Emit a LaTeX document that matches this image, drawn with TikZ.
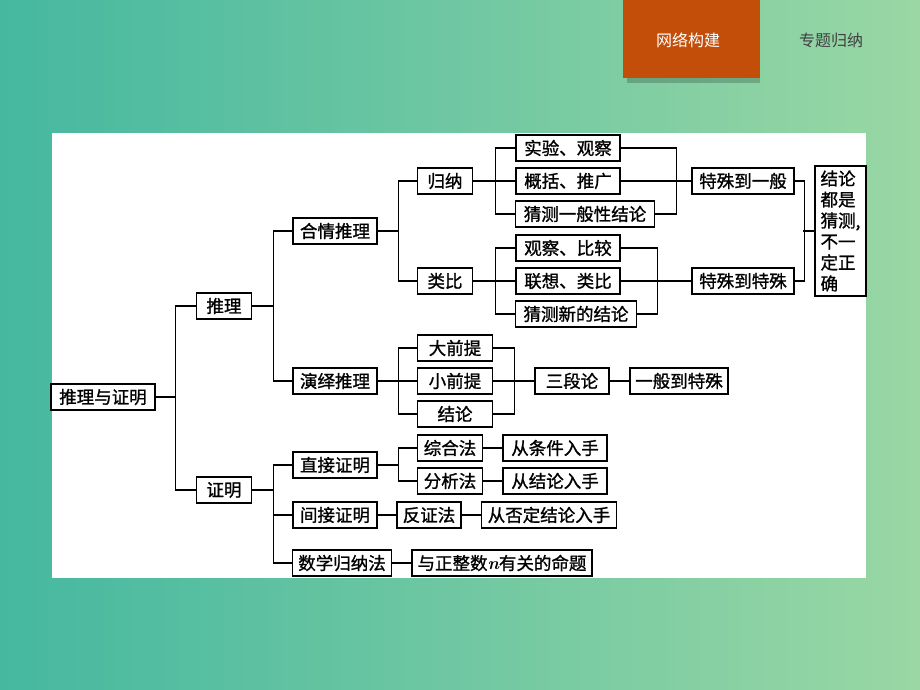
\documentclass[tikz,border=0pt]{standalone}
\usepackage{fontspec}
\newfontfamily\cjk{Noto Sans CJK SC}
\newfontfamily\cjkbox{Noto Sans CJK SC}[FakeBold=1.2]
\usepackage{tikz}
\usetikzlibrary{positioning}
\definecolor{bgteal}{HTML}{45B8A0}
\definecolor{bggreen}{HTML}{9AD7A4}
\definecolor{tabred}{HTML}{C24E0A}
\tikzset{
  kbox/.style={draw=black, line width=1.4pt, fill=white, minimum height=26pt,
    inner sep=0pt, font=\cjkbox\fontsize{17.5}{20}\selectfont},
  kline/.style={line width=1.4pt}
}

\begin{document}
\begin{tikzpicture}[x=1pt, y=-1pt]
\shade[left color=bgteal, right color=bggreen] (0,0) rectangle (920,690);
\fill[black, opacity=0.2] (627,78) rectangle (760,83);
\fill[tabred] (623,0) rectangle (760,78);
\node[font=\cjk\fontsize{16}{18}\selectfont, text=white] (tabA) at (688,40) {网络构建};
\node[font=\cjk\fontsize{16}{18}\selectfont, text=black!75] (tabB) at (831,40) {专题归纳};
\fill[white] (52,133) rectangle (866,578);
% first levels
\node[kbox, minimum width=104pt] (root) at (103,397) {推理与证明};
\node[kbox, minimum width=55pt] (tl) at (224,306) {推理};
\node[kbox, minimum width=55pt] (zm) at (224,490) {证明};
\node[kbox, minimum width=84pt] (hq) at (335,231) {合情推理};
\node[kbox, minimum width=84pt] (yy) at (335,381) {演绎推理};
\node[kbox, minimum width=84pt] (zj) at (335,465) {直接证明};
\node[kbox, minimum width=84pt] (jj) at (335,515) {间接证明};
\node[kbox, minimum width=99pt] (sx) at (342,563) {数学归纳法};
% plausible reasoning
\node[kbox, minimum width=55pt] (gn) at (445,181) {归纳};
\node[kbox, minimum width=55pt] (lb) at (445,281) {类比};
\node[kbox, minimum width=104pt] (sy) at (568,148) {实验、观察};
\node[kbox, minimum width=104pt] (gk) at (568,181) {概括、推广};
\node[kbox, minimum width=139pt] (cy) at (585,214) {猜测一般性结论};
\node[kbox, minimum width=104pt] (gb) at (568,248) {观察、比较};
\node[kbox, minimum width=104pt] (lx) at (568,281) {联想、类比};
\node[kbox, minimum width=121pt] (cx) at (576,314) {猜测新的结论};
\node[kbox, minimum width=102pt] (ybz) at (743,181) {特殊到一般};
\node[kbox, minimum width=102pt] (tsts) at (743,281) {特殊到特殊};
\node[kbox, minimum width=51pt, minimum height=130pt, align=left,
  font=\cjkbox\fontsize{17.5}{21}\selectfont] (note) at (840.5,231)
  {结论\\都是\\猜测,\\不一\\定正\\确};
% deductive reasoning
\node[kbox, minimum width=75pt] (dq) at (455,348) {大前提};
\node[kbox, minimum width=75pt] (xq) at (455,381) {小前提};
\node[kbox, minimum width=75pt] (jl) at (455,414) {结论};
\node[kbox, minimum width=74pt] (sdl) at (572,381) {三段论};
\node[kbox, minimum width=98pt] (ybts) at (679,381) {一般到特殊};
% proof
\node[kbox, minimum width=65pt] (zh) at (450,448) {综合法};
\node[kbox, minimum width=65pt] (fx) at (450,481) {分析法};
\node[kbox, minimum width=104pt] (tj) at (555,448) {从条件入手};
\node[kbox, minimum width=104pt] (jr) at (555,481) {从结论入手};
\node[kbox, minimum width=64pt] (fz) at (429,515) {反证法};
\node[kbox, minimum width=135pt] (fd) at (549,515) {从否定结论入手};
\node[kbox, minimum width=180pt] (zs) at (502,563) {与正整数{\rmfamily\bfseries\itshape n}有关的命题};
% connectors
\draw[kline] (root.east) -- ++(20,0) |- (tl.west);
\draw[kline] (root.east) -- ++(20,0) |- (zm.west);
\draw[kline] (tl.east) -- ++(21,0) |- (hq.west);
\draw[kline] (tl.east) -- ++(21,0) |- (yy.west);
\draw[kline] (zm.east) -- ++(21,0) |- (zj.west);
\draw[kline] (zm.east) -- ++(21,0) |- (jj.west);
\draw[kline] (zm.east) -- ++(21,0) |- (sx.west);
\draw[kline] (hq.east) -- ++(21,0) |- (gn.west);
\draw[kline] (hq.east) -- ++(21,0) |- (lb.west);
\draw[kline] (gn.east) -- ++(22,0) |- (sy.west);
\draw[kline] (gn.east) -- ++(22,0) |- (cy.west);
\draw[kline] (gn.east) -- (gk.west);
\draw[kline] (sy.east) -- ++(56,0) |- (cy.east);
\draw[kline] (gk.east) -- (ybz.west);
\draw[kline] (lb.east) -- ++(22,0) |- (gb.west);
\draw[kline] (lb.east) -- ++(22,0) |- (cx.west);
\draw[kline] (lb.east) -- (lx.west);
\draw[kline] (gb.east) -- ++(37,0) |- (cx.east);
\draw[kline] (lx.east) -- (tsts.west);
\draw[kline] (ybz.east) -- ++(10,0) |- (tsts.east);
\draw[kline] (note.west) -- ++(-11,0);
\draw[kline] (yy.east) -- ++(21,0) |- (dq.west);
\draw[kline] (yy.east) -- ++(21,0) |- (jl.west);
\draw[kline] (yy.east) -- (xq.west);
\draw[kline] (dq.east) -- ++(21,0) |- (jl.east);
\draw[kline] (xq.east) -- (sdl.west);
\draw[kline] (sdl.east) -- (ybts.west);
\draw[kline] (zj.east) -- ++(21,0) |- (zh.west);
\draw[kline] (zj.east) -- ++(21,0) |- (fx.west);
\draw[kline] (zh.east) -- (tj.west);
\draw[kline] (fx.east) -- (jr.west);
\draw[kline] (jj.east) -- (fz.west);
\draw[kline] (fz.east) -- (fd.west);
\draw[kline] (sx.east) -- (zs.west);
\end{tikzpicture}
\end{document}
